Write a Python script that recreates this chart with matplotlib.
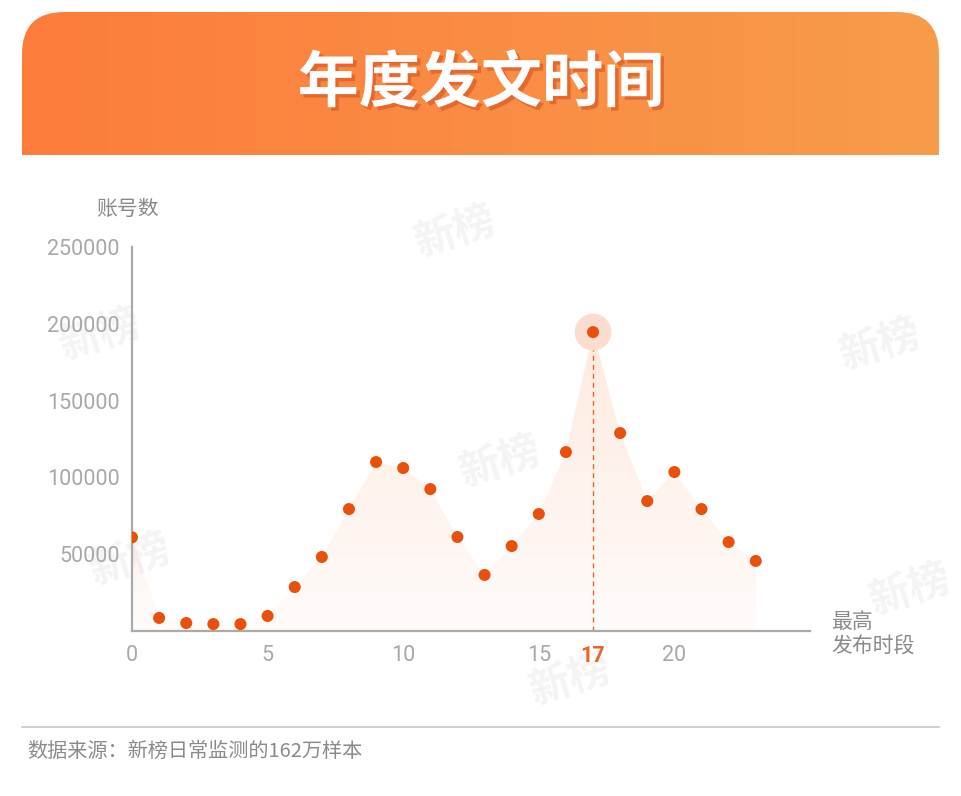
import numpy as np
import matplotlib
matplotlib.use("Agg")
import matplotlib.pyplot as plt
from matplotlib.patches import FancyBboxPatch, Polygon
import matplotlib.patheffects as pe

plt.rcParams['font.family'] = ['Noto Sans CJK SC', 'DejaVu Sans']

# data: accounts by hour of peak posting
hours = list(range(24))
accounts = [61000, 8500, 5200, 4500, 4500, 9800, 28600, 48200, 79400, 110000,
            106100, 92400, 61200, 36500, 55300, 76200, 116500, 194600, 128900, 84600,
            103500, 79400, 57900, 45600]
x_ticks = [0, 5, 10, 15, 17, 20]
y_ticks = [50000, 100000, 150000, 200000, 250000]
peak_hour = 17

W, H = 961, 796
fig = plt.figure(figsize=(W / 100, H / 100), dpi=100)
fig.patch.set_facecolor("white")

# background layer in pixel coordinates
bg = fig.add_axes([0, 0, 1, 1], zorder=0)
bg.set_xlim(0, W)
bg.set_ylim(H, 0)
bg.axis("off")

# header banner with gradient and rounded top corners
grad = np.linspace(0, 1, 256)
c0 = np.array([253, 124, 60]) / 255
c1 = np.array([247, 156, 74]) / 255
img = (c0[None, :] * (1 - grad[:, None]) + c1[None, :] * grad[:, None])[None, :, :]
im = bg.imshow(img, extent=[22, 939, 155, 12], aspect="auto", zorder=1)
clip = FancyBboxPatch((22, 12), 917, 200, boxstyle="round,pad=0,rounding_size=42",
                      transform=bg.transData, facecolor="none", edgecolor="none")
bg.add_patch(clip)
im.set_clip_path(clip)

bg.text(481, 84, "年度发文时间", color="white", fontsize=44, fontweight="heavy",
        ha="center", va="center", zorder=3,
        path_effects=[pe.withSimplePatchShadow(offset=(2.5, -2.5), shadow_rgbFace="#e0602a", alpha=0.8)])

# watermarks
for (wx, wy) in [(455, 232), (100, 335), (880, 345), (500, 462), (130, 560),
                 (910, 590), (570, 680)]:
    bg.text(wx, wy, "新榜", fontsize=30, fontweight="bold", color="#f4f4f4",
            rotation=18, ha="center", va="center", zorder=0.5)

# footer
bg.plot([22, 939], [727, 727], color="#c8c8c8", lw=1.2, zorder=2)
bg.text(27, 751, "数据来源：新榜日常监测的162万样本", fontsize=14.5, color="#8a8a8a",
        ha="left", va="center", zorder=2)

# chart axes
ax = fig.add_axes([132 / W, (H - 631) / H, (810 - 132) / W, (631 - 247) / H], zorder=2)
ax.patch.set_alpha(0)
ax.set_xlim(0, 25)
ax.set_ylim(0, 250000)

# gradient area under points
verts = [(hours[0], 0)] + list(zip(hours, accounts)) + [(hours[-1], 0)]
poly = Polygon(verts, closed=True, facecolor="none", edgecolor="none")
ax.add_patch(poly)
g = np.linspace(1, 0, 256)
fill_img = np.zeros((256, 1, 4))
fill_img[:, 0, 0] = 250 / 255
fill_img[:, 0, 1] = 155 / 255
fill_img[:, 0, 2] = 105 / 255
fill_img[:, 0, 3] = 0.04 + 0.17 * g
fim = ax.imshow(fill_img, extent=[0, 23, 0, max(accounts)], aspect="auto", origin="upper",
                zorder=1)
fim.set_clip_path(poly)

# peak highlight
ax.vlines(peak_hour, 0, accounts[peak_hour], colors="#e8652a", linestyles=(0, (3.5, 3)),
          lw=1.0, zorder=2)
ax.scatter([peak_hour], [accounts[peak_hour]], s=700, color="#fbddd0", zorder=2.5,
           edgecolors="none")
ax.scatter(hours, accounts, s=75, color="#e8500c", zorder=3, edgecolors="none")

for s in ["top", "right"]:
    ax.spines[s].set_visible(False)
for s in ["left", "bottom"]:
    ax.spines[s].set_color("#aaaaaa")
    ax.spines[s].set_linewidth(1.6)

ax.set_xticks(x_ticks)
ax.set_xticklabels([str(t) for t in x_ticks], family=["Roboto", "DejaVu Sans"])
ax.set_yticks(y_ticks)
ax.set_yticklabels([str(t) for t in y_ticks], family=["Roboto", "DejaVu Sans"])
ax.tick_params(axis="both", length=0, labelsize=15.5, colors="#a8a8a8")
ax.tick_params(axis="x", pad=10)
ax.tick_params(axis="y", pad=9)
for lbl in ax.get_xticklabels():
    if lbl.get_text() == str(peak_hour):
        lbl.set_color("#e8652a")
        lbl.set_fontweight("bold")

bg.text(128, 209, "账号数", fontsize=15, color="#8a8a8a", ha="center", va="center", zorder=2)
bg.text(831, 634, "最高\n发布时段", fontsize=15, color="#8a8a8a", ha="left", va="center",
        linespacing=1.15, zorder=2)

fig.savefig("out.png", dpi=100, facecolor="white")
